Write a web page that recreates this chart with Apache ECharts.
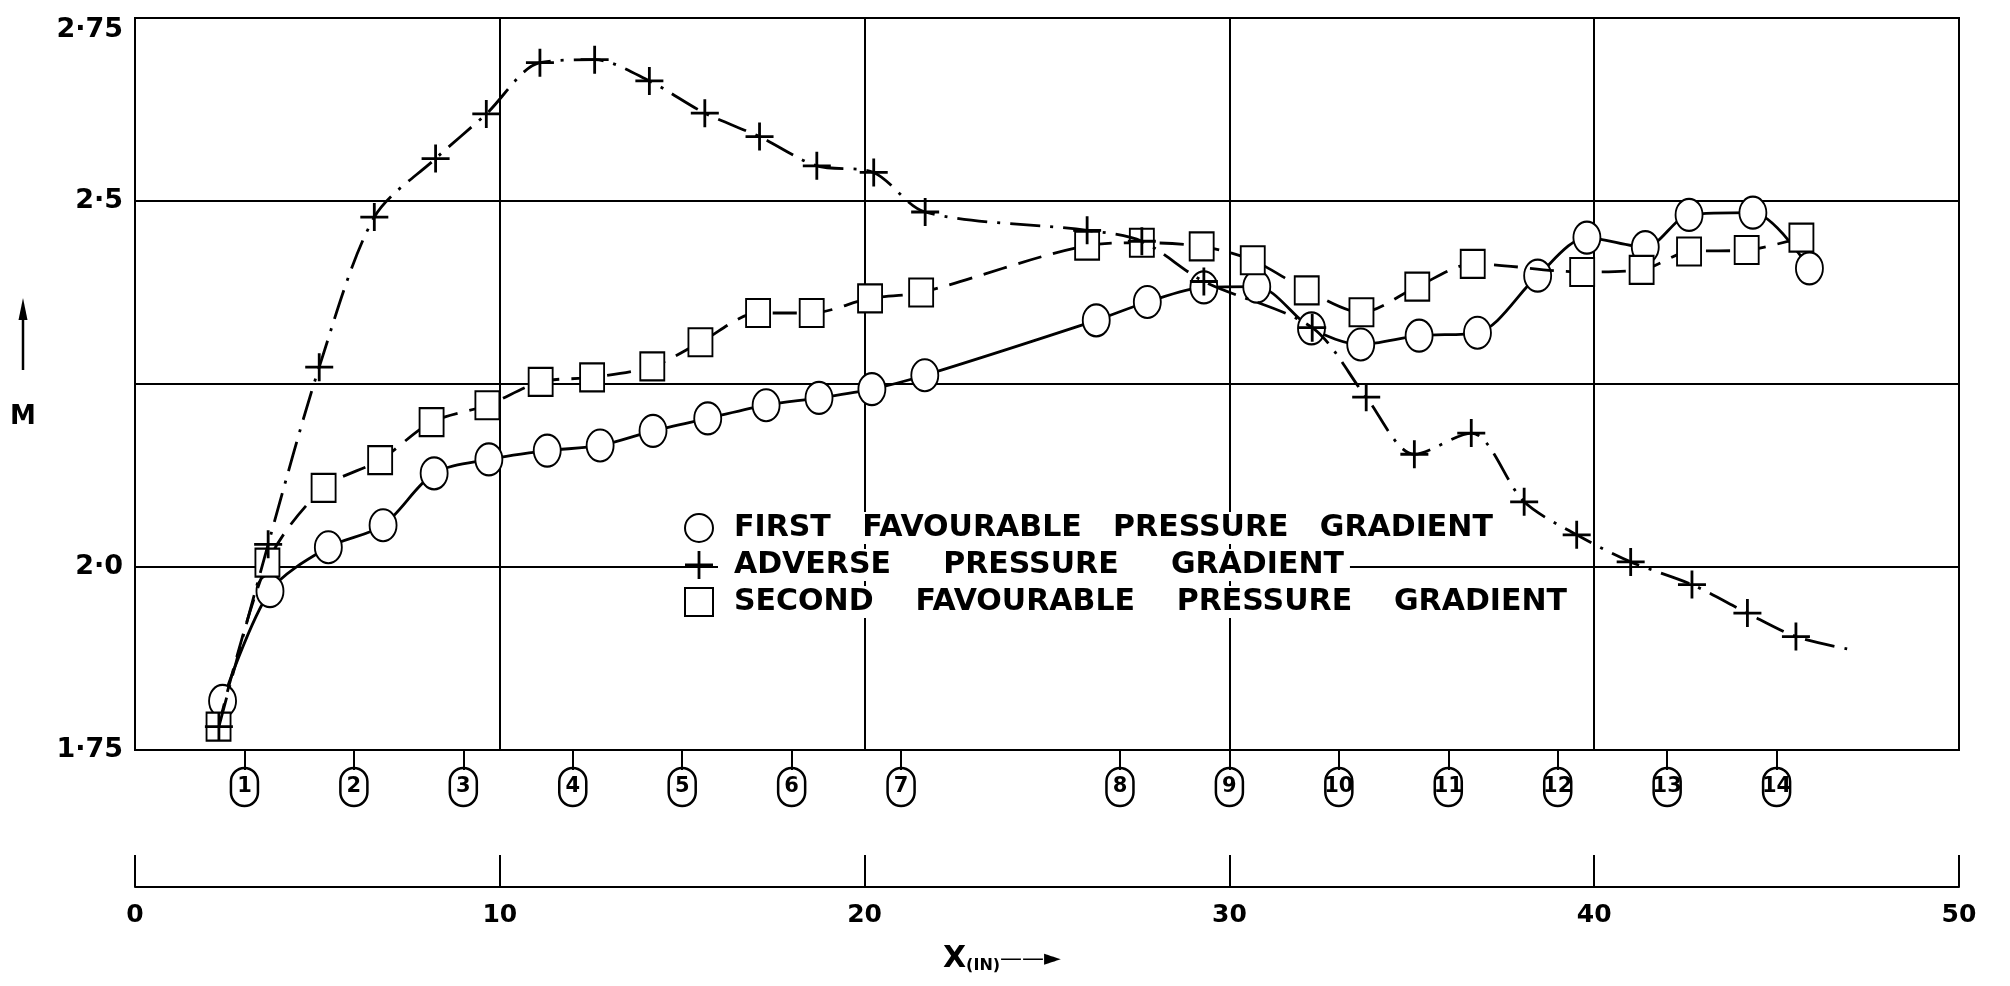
<!DOCTYPE html>
<html>
<head>
<meta charset="utf-8">
<title>M against X</title>
<script src="https://cdn.jsdelivr.net/npm/echarts@6/dist/echarts.min.js"></script>
<style>
  html, body { margin: 0; padding: 0; background: #fff; }
  #chart { width: 2010px; height: 986px; }
</style>
</head>
<body>
<div id="chart"></div>
<script>
// first favourable pressure gradient (circles)
var xFirst = [2.4, 3.7, 5.3, 6.8, 8.2, 9.7, 11.3, 12.75, 14.2, 15.7, 17.3, 18.75, 20.2, 21.65, 26.35, 27.75, 29.3, 30.75, 32.25, 33.6, 35.2, 36.8, 38.45, 39.8, 41.4, 42.6, 44.35, 45.9];
var mFirst = [1.817, 1.967, 2.027, 2.057, 2.128, 2.147, 2.159, 2.166, 2.186, 2.203, 2.221, 2.231, 2.243, 2.262, 2.337, 2.362, 2.382, 2.383, 2.326, 2.304, 2.316, 2.32, 2.398, 2.45, 2.437, 2.481, 2.484, 2.408];

// adverse pressure gradient (+)
var xAdverse = [2.3, 3.65, 5.05, 6.56, 8.24, 9.63, 11.1, 12.6, 14.1, 15.62, 17.12, 18.69, 20.25, 21.66, 26.1, 27.6, 29.3, 32.27, 33.75, 35.07, 36.63, 38.08, 39.52, 41.0, 42.68, 44.2, 45.53];
var mAdverse = [1.782, 2.031, 2.273, 2.478, 2.558, 2.619, 2.689, 2.693, 2.664, 2.620, 2.588, 2.548, 2.539, 2.485, 2.46, 2.445, 2.39, 2.327, 2.232, 2.154, 2.183, 2.089, 2.044, 2.007, 1.976, 1.937, 1.905];
var adverseTail = [46.95, 1.888]; // end of the faired curve, no point there

// second favourable pressure gradient (squares)
var xSecond = [2.29, 3.63, 5.17, 6.72, 8.13, 9.66, 11.12, 12.53, 14.18, 15.5, 17.08, 18.55, 20.15, 21.55, 26.1, 27.6, 29.24, 30.64, 32.12, 33.62, 35.15, 36.67, 39.67, 41.3, 42.6, 44.18, 45.68];
var mSecond = [1.782, 2.006, 2.108, 2.146, 2.198, 2.221, 2.253, 2.259, 2.274, 2.307, 2.347, 2.347, 2.367, 2.375, 2.439, 2.443, 2.438, 2.419, 2.378, 2.348, 2.383, 2.414, 2.403, 2.406, 2.431, 2.433, 2.45];

var seriesNames = [
  'FIRST   FAVOURABLE   PRESSURE   GRADIENT',
  'ADVERSE     PRESSURE     GRADIENT',
  'SECOND    FAVOURABLE    PRESSURE    GRADIENT'
];

// measuring stations along the wall
var stationX = [3, 6, 9, 12, 15, 18, 21, 27, 30, 33, 36, 39, 42, 45];
var stationLabels = ['1', '2', '3', '4', '5', '6', '7', '8', '9', '10', '11', '12', '13', '14'];

var yTickValues = [1.75, 2.0, 2.25, 2.5, 2.75];
var yTickLabels = ['1·75', '2·0', '', '2·5', '2·75'];
var xScaleValues = [0, 10, 20, 30, 40, 50];
var xScaleLabels = ['0', '10', '20', '30', '40', '50'];

var FONT = 'DejaVu Sans';
var PLUS = 'path://M9,0h2v9h9v2h-9v9h-2v-9h-9v-2h9z';

function pairs(xs, ys) {
  return xs.map(function (x, i) {
    return [x, ys[i]];
  });
}

var adverseData = pairs(xAdverse, mAdverse);
adverseData.push({ value: adverseTail, symbol: 'none' });

var myChart = echarts.init(document.getElementById('chart'));

var option = {
  backgroundColor: '#fff',
  animation: false,
  textStyle: { fontFamily: FONT, color: '#000' },
  grid: [
    {
      left: 135, right: 51, top: 18, bottom: 236,
      show: true, borderColor: '#000', borderWidth: 2,
      outerBoundsMode: 'none'
    },
    {
      left: 135, right: 51, top: 850, height: 37,
      outerBoundsMode: 'none'
    }
  ],
  xAxis: [
    {
      gridIndex: 0, type: 'value', min: 0, max: 50, interval: 10,
      axisLine: { show: true, lineStyle: { color: '#000', width: 2 } },
      axisTick: { show: false },
      axisLabel: { show: false },
      splitLine: { show: true, lineStyle: { color: '#000', width: 2 } }
    },
    {
      // station numbers under the plot
      gridIndex: 0, type: 'value', min: 0, max: 50, position: 'bottom',
      axisLine: { show: false },
      splitLine: { show: false },
      axisTick: {
        show: true, customValues: stationX, length: 20,
        lineStyle: { color: '#000', width: 2 }
      },
      axisLabel: {
        show: true, customValues: stationX, margin: 18,
        formatter: function (v) {
          var i = stationX.indexOf(v);
          return i >= 0 ? '{c|' + stationLabels[i] + '}' : '';
        },
        rich: {
          c: {
            fontFamily: FONT, fontSize: 21, fontWeight: 'bold', color: '#000',
            width: 27, height: 38, lineHeight: 38, align: 'center',
            borderColor: '#000', borderWidth: 2.5, borderRadius: 16
          }
        }
      }
    },
    {
      // X scale in inches
      gridIndex: 1, type: 'value', min: 0, max: 50, interval: 10,
      axisLine: { show: true, lineStyle: { color: '#000', width: 2 } },
      axisTick: { show: true, inside: true, length: 32, lineStyle: { color: '#000', width: 2 } },
      splitLine: { show: false },
      axisLabel: {
        show: true, margin: 16, fontSize: 25, fontWeight: 'bold', fontFamily: FONT, color: '#000',
        formatter: function (v) {
          var i = xScaleValues.indexOf(v);
          return i >= 0 ? xScaleLabels[i] : '';
        }
      },
      name: '{x|X}{s|(IN)}{a|——►}',
      nameLocation: 'middle',
      nameGap: 57,
      nameTextStyle: {
        padding: [0, 90, 0, 0],
        rich: {
          x: { fontFamily: FONT, fontSize: 30, fontWeight: 'bold', lineHeight: 30, verticalAlign: 'middle', color: '#000' },
          s: { fontFamily: FONT, fontSize: 16, fontWeight: 'bold', lineHeight: 30, verticalAlign: 'bottom', color: '#000' },
          a: { fontFamily: FONT, fontSize: 22, lineHeight: 30, verticalAlign: 'middle', color: '#000' }
        }
      }
    }
  ],
  yAxis: [
    {
      gridIndex: 0, type: 'value', min: 1.75, max: 2.75, interval: 0.25,
      axisLine: { show: true, lineStyle: { color: '#000', width: 2 } },
      axisTick: { show: false },
      splitLine: { show: true, lineStyle: { color: '#000', width: 2 } },
      axisLabel: {
        show: true, margin: 12, fontSize: 27, fontWeight: 'bold', fontFamily: FONT, color: '#000',
        formatter: function (v) {
          var i = yTickValues.indexOf(Math.round(v * 100) / 100);
          if (i < 0) return '';
          return i === yTickValues.length - 1 ? '{t|' + yTickLabels[i] + '}' : yTickLabels[i];
        },
        rich: {
          t: { fontFamily: FONT, fontSize: 27, fontWeight: 'bold', color: '#000', padding: [24, 0, 0, 0] }
        }
      }
    },
    {
      gridIndex: 1, type: 'value', min: 0, max: 1, show: false
    }
  ],
  legend: {
    orient: 'vertical',
    left: 679, top: 507,
    itemWidth: 28, itemHeight: 28, itemGap: 5,
    z: 1,
    selectedMode: false,
    textStyle: {
      fontFamily: FONT, fontSize: 30, fontWeight: 'bold', color: '#000', lineHeight: 30,
      backgroundColor: '#fff', padding: [1, 6, 1, 16]
    },
    data: [
      { name: seriesNames[0], icon: 'emptyCircle', itemStyle: { color: '#000', borderColor: '#000', borderWidth: 2.5 } },
      { name: seriesNames[1], icon: PLUS, itemStyle: { color: '#000', borderWidth: 0 } },
      { name: seriesNames[2], icon: 'emptyRect', itemStyle: { color: '#000', borderColor: '#000', borderWidth: 2.5 } }
    ]
  },
  graphic: [
    {
      type: 'line', z: 5,
      shape: { x1: 23, y1: 370, x2: 23, y2: 310 },
      style: { stroke: '#000', lineWidth: 2.5 }
    },
    {
      type: 'polygon', z: 5,
      shape: { points: [[23, 298], [18.5, 320], [27.5, 320]] },
      style: { fill: '#000' }
    },
    {
      // axis name M
      type: 'text', z: 5, x: 23, y: 417,
      style: {
        text: 'M', fill: '#000', font: 'bold 26px "DejaVu Sans"',
        align: 'center', verticalAlign: 'middle'
      }
    }
  ],
  series: [
    {
      name: seriesNames[0], type: 'line', xAxisIndex: 0, yAxisIndex: 0, z: 3,
      data: pairs(xFirst, mFirst),
      smooth: 0.3,
      symbol: 'emptyCircle', symbolSize: [27, 32],
      itemStyle: { color: '#000', borderColor: '#000', borderWidth: 2.5 },
      lineStyle: { color: '#000', width: 2.8, type: 'solid' }
    },
    {
      name: seriesNames[2], type: 'line', xAxisIndex: 0, yAxisIndex: 0, z: 4,
      data: pairs(xSecond, mSecond),
      smooth: 0.3,
      symbol: 'emptyRect', symbolSize: [24, 28],
      itemStyle: { color: '#000', borderColor: '#000', borderWidth: 2.5 },
      lineStyle: { color: '#000', width: 2.8, type: [24, 12] }
    },
    {
      name: seriesNames[1], type: 'line', xAxisIndex: 0, yAxisIndex: 0, z: 5,
      data: adverseData,
      smooth: 0.3,
      symbol: PLUS, symbolSize: [28, 28],
      itemStyle: { color: '#000', borderWidth: 0 },
      lineStyle: { color: '#000', width: 2.8, type: [30, 10, 3, 10] }
    }
  ]
};

myChart.setOption(option);
window.addEventListener('resize', function () {
  myChart.resize();
});
</script>
</body>
</html>
